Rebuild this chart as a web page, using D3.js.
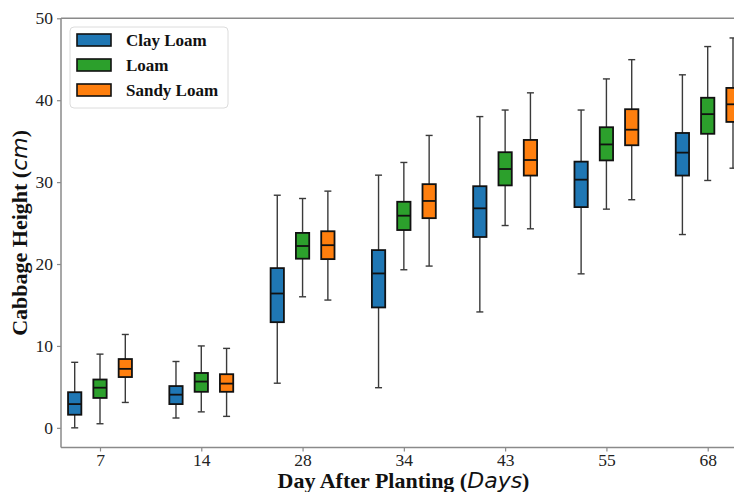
<!DOCTYPE html>
<html><head><meta charset="utf-8">
<script src="https://cdn.jsdelivr.net/npm/d3@7"></script>
<style>html,body{margin:0;padding:0;background:#fff;overflow:hidden}</style>
</head><body>
<svg id="chart" width="734" height="492"></svg>
<script>
const days = ["7","14","28","34","43","55","68"];
const soils = ["Clay Loam","Loam","Sandy Loam"];
const colors = ["#1f77b4","#2ca02c","#ff7f0e"];
const yTicks = [0,10,20,30,40,50];
// [whiskerLow, Q1, median, Q3, whiskerHigh] per day
const clayLoam = [
  [0.0,1.6,2.9,4.35,8.0],
  [1.2,2.9,4.05,5.1,8.1],
  [5.45,12.9,16.4,19.5,28.4],
  [4.9,14.7,18.85,21.7,30.85],
  [14.15,23.3,26.8,29.5,38.0],
  [18.8,26.95,30.3,32.5,38.8],
  [23.6,30.8,33.6,36.0,43.1]
];
const loam = [
  [0.5,3.65,4.9,5.9,9.0],
  [1.95,4.4,5.65,6.7,10.0],
  [16.0,20.65,22.2,23.8,28.0],
  [19.3,24.15,25.9,27.6,32.4],
  [24.7,29.6,31.6,33.65,38.8],
  [26.7,32.65,34.6,36.7,42.6],
  [30.2,35.9,38.3,40.3,46.55]
];
const sandyLoam = [
  [3.1,6.2,7.2,8.4,11.4],
  [1.4,4.4,5.4,6.55,9.7],
  [15.6,20.6,22.3,24.0,28.9],
  [19.75,25.6,27.7,29.75,35.7],
  [24.3,30.8,32.7,35.15,40.9],
  [27.85,34.5,36.4,38.9,44.95],
  [31.7,37.35,39.5,41.5,47.6]
];
const seriesData = [clayLoam, loam, sandyLoam];

const svg = d3.select("#chart");
const mLeft = 61, mTop = 18.3, mBottom = 447.5, mRight = 746;
const x = d3.scalePoint().domain(days).range([100, 707.7]);
const xs = d3.scalePoint().domain(soils).range([-25.3, 25.3]);
const y = d3.scaleLinear().domain([-2.4, 50]).range([mBottom, mTop]);
const boxW = 13.3, capW = 7;
const serif = "'Liberation Serif','Times New Roman',serif";

// boxes
soils.forEach((s, si) => {
  const g = svg.append("g");
  seriesData[si].forEach((d, i) => {
    const cx = x(days[i]) + xs(s);
    const [lo, q1, med, q3, hi] = d;
    const wc = "#3a3a3a";
    g.append("line").attr("x1", cx).attr("x2", cx).attr("y1", y(q3)).attr("y2", y(hi)).attr("stroke", wc).attr("stroke-width", 1.4);
    g.append("line").attr("x1", cx).attr("x2", cx).attr("y1", y(q1)).attr("y2", y(lo)).attr("stroke", wc).attr("stroke-width", 1.4);
    g.append("line").attr("x1", cx - capW/2).attr("x2", cx + capW/2).attr("y1", y(hi)).attr("y2", y(hi)).attr("stroke", wc).attr("stroke-width", 1.4);
    g.append("line").attr("x1", cx - capW/2).attr("x2", cx + capW/2).attr("y1", y(lo)).attr("y2", y(lo)).attr("stroke", wc).attr("stroke-width", 1.4);
    g.append("rect").attr("x", cx - boxW/2).attr("y", y(q3)).attr("width", boxW).attr("height", y(q1) - y(q3))
      .attr("fill", colors[si]).attr("stroke", "#111").attr("stroke-width", 1.8);
    g.append("line").attr("x1", cx - boxW/2).attr("x2", cx + boxW/2).attr("y1", y(med)).attr("y2", y(med)).attr("stroke", "#111").attr("stroke-width", 1.8);
  });
});

// spines
const spine = "#8a8a8a";
svg.append("line").attr("x1", mLeft).attr("x2", mLeft).attr("y1", mTop).attr("y2", mBottom).attr("stroke", spine).attr("stroke-width", 1.5);
svg.append("line").attr("x1", mLeft).attr("x2", mRight).attr("y1", mTop).attr("y2", mTop).attr("stroke", spine).attr("stroke-width", 1.5);
svg.append("line").attr("x1", mLeft).attr("x2", mRight).attr("y1", mBottom).attr("y2", mBottom).attr("stroke", spine).attr("stroke-width", 1.5);

// axes
const yAxis = svg.append("g").attr("transform", `translate(${mLeft},0)`)
  .call(d3.axisLeft(y).tickValues(yTicks).tickSize(4).tickPadding(4));
yAxis.select(".domain").remove();
yAxis.selectAll(".tick line").attr("stroke", spine).attr("stroke-width", 1.2);
yAxis.selectAll(".tick text").attr("font-family", serif).attr("font-size", 17.5).attr("fill", "#222");

const xAxis = svg.append("g").attr("transform", `translate(0,${mBottom})`)
  .call(d3.axisBottom(x).tickSize(4).tickPadding(2));
xAxis.select(".domain").remove();
xAxis.selectAll(".tick line").attr("stroke", spine).attr("stroke-width", 1.2);
xAxis.selectAll(".tick text").attr("font-family", serif).attr("font-size", 17.5).attr("fill", "#222");

// axis labels
const yl = svg.append("text").attr("transform", `translate(27,${(mTop+mBottom)/2}) rotate(-90)`)
  .attr("text-anchor", "middle").attr("font-family", serif).attr("font-weight", "bold").attr("font-size", 22).attr("fill", "#111");
yl.append("tspan").text("Cabbage Height (");
yl.append("tspan").text("cm").attr("font-family", "'DejaVu Sans',sans-serif").attr("font-style", "italic").attr("font-weight", "normal");
yl.append("tspan").text(")");

const xl = svg.append("text").attr("x", (mLeft+mRight)/2).attr("y", 488)
  .attr("text-anchor", "middle").attr("font-family", serif).attr("font-weight", "bold").attr("font-size", 22).attr("fill", "#111");
xl.append("tspan").text("Day After Planting (");
xl.append("tspan").text("Days").attr("font-family", "'DejaVu Sans',sans-serif").attr("font-style", "italic").attr("font-weight", "normal");
xl.append("tspan").text(")");

// legend
const lg = svg.append("g");
lg.append("rect").attr("x", 70).attr("y", 27).attr("width", 158).attr("height", 81).attr("rx", 4)
  .attr("fill", "#fff").attr("fill-opacity", 0.8).attr("stroke", "#dcdcdc").attr("stroke-width", 1);
soils.forEach((s, i) => {
  const cy = 40 + i * 25;
  lg.append("rect").attr("x", 77).attr("y", cy - 6).attr("width", 34).attr("height", 12)
    .attr("fill", colors[i]).attr("stroke", "#111").attr("stroke-width", 1.6);
  lg.append("text").attr("x", 126).attr("y", cy).attr("dy", "0.35em").text(s)
    .attr("font-family", serif).attr("font-weight", "bold").attr("font-size", 17).attr("fill", "#111");
});
</script>
</body></html>
